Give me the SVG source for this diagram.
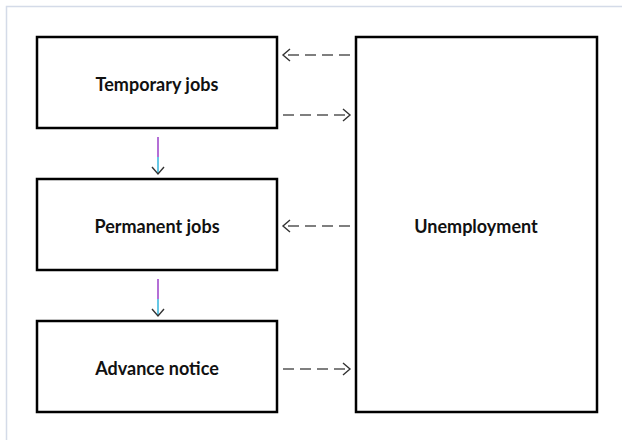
<svg xmlns="http://www.w3.org/2000/svg" width="622" height="440" viewBox="0 0 622 440">
<style>
.box{fill:#fff;stroke:#000;stroke-width:2.5}
.lbl{font-family:Lato,"Liberation Sans",sans-serif;font-weight:bold;font-size:18px;fill:#111;text-anchor:middle;dominant-baseline:central}
.dash{stroke:#555;stroke-width:1.4;stroke-dasharray:11,6;fill:none}
.head{stroke:#333;stroke-width:1.4;fill:none}
</style>
<rect x="0" y="0" width="622" height="440" fill="#fff"/>
<path d="M6.5 440 V6.5 H622" fill="none" stroke="#d4dbe8" stroke-width="1.5"/>
<g id="temporary"><rect class="box" x="37" y="37" width="240" height="91"/><text class="lbl" x="157" y="84">Temporary jobs</text></g>
<g id="permanent"><rect class="box" x="37" y="179" width="240" height="91"/><text class="lbl" x="157" y="226">Permanent jobs</text></g>
<g id="advance"><rect class="box" x="37" y="321" width="240" height="91"/><text class="lbl" x="157" y="368">Advance notice</text></g>
<g id="unemployment"><rect class="box" x="356" y="37" width="241" height="375"/><text class="lbl" x="476" y="226">Unemployment</text></g>
<g id="connectors">
<path class="dash" d="M350 55 H284"/><path class="head" d="M290 49 L283 55 L290 61"/>
<path class="dash" d="M283 115 H349"/><path class="head" d="M343 109 L350 115 L343 121"/>
<path class="dash" d="M350 226 H284"/><path class="head" d="M290 220 L283 226 L290 232"/>
<path class="dash" d="M283 369 H349"/><path class="head" d="M343 363 L350 369 L343 375"/>
<path d="M158 137 V157" stroke="#9b3fc9" stroke-width="1.5"/><path d="M158 157 V173" stroke="#33b5dd" stroke-width="1.5"/><path class="head" d="M152 167 L158 174 L164 167"/>
<path d="M158 279 V299" stroke="#9b3fc9" stroke-width="1.5"/><path d="M158 299 V315" stroke="#33b5dd" stroke-width="1.5"/><path class="head" d="M152 309 L158 316 L164 309"/>
</g>
</svg>
